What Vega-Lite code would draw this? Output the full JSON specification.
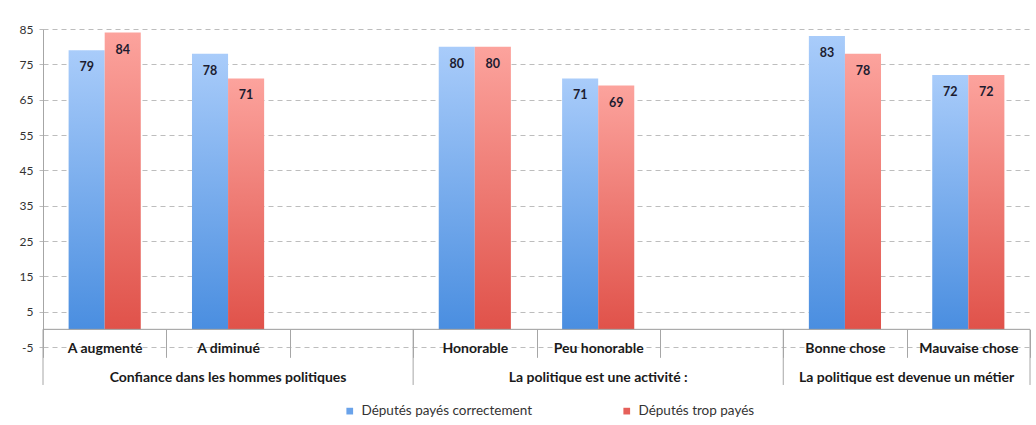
{
  "$schema": "https://vega.github.io/schema/vega-lite/v6.json",
  "width": 987,
  "height": 318,
  "autosize": "none",
  "padding": {"left": 43, "top": 29, "right": 6, "bottom": 78},
  "background": "white",
  "config": {"view": {"stroke": null}, "font": "Lato"},
  "datasets": {
    "bars": [
      {"cat": "A augmenté", "serie": "Députés payés correctement", "value": 79},
      {"cat": "A augmenté", "serie": "Députés trop payés", "value": 84},
      {"cat": "A diminué", "serie": "Députés payés correctement", "value": 78},
      {"cat": "A diminué", "serie": "Députés trop payés", "value": 71},
      {"cat": "Honorable", "serie": "Députés payés correctement", "value": 80},
      {"cat": "Honorable", "serie": "Députés trop payés", "value": 80},
      {"cat": "Peu honorable", "serie": "Députés payés correctement", "value": 71},
      {"cat": "Peu honorable", "serie": "Députés trop payés", "value": 69},
      {"cat": "Bonne chose", "serie": "Députés payés correctement", "value": 83},
      {"cat": "Bonne chose", "serie": "Députés trop payés", "value": 78},
      {"cat": "Mauvaise chose", "serie": "Députés payés correctement", "value": 72},
      {"cat": "Mauvaise chose", "serie": "Députés trop payés", "value": 72}
    ]
  },
  "layer": [
    {
      "data": {"name": "bars"},
      "transform": [{"filter": "datum.serie === 'Députés payés correctement'"}],
      "mark": {
        "type": "bar",
        "color": {
          "gradient": "linear", "x1": 0, "y1": 0, "x2": 0, "y2": 1,
          "stops": [{"offset": 0, "color": "#a9ccfa"}, {"offset": 1, "color": "#4a8ee0"}]
        }
      },
      "encoding": {
        "x": {
          "field": "cat", "type": "nominal", "title": null,
          "scale": {
            "domain": ["A augmenté", "A diminué", "_1", "Honorable", "Peu honorable", "_2", "Bonne chose", "Mauvaise chose"],
            "paddingInner": 0, "paddingOuter": 0
          },
          "axis": {
            "orient": "bottom", "offset": -17.67, "domain": false, "grid": false,
            "ticks": true, "tickBand": "extent", "tickSize": 28, "tickColor": "#a6a6a6", "tickWidth": 1,
            "labelPadding": -9.3, "labelBaseline": "middle", "labelAngle": 0,
            "labelFontSize": 14, "labelFontWeight": "bold", "labelColor": "#1a1a1a", "labelFont": "Lato",
            "labelExpr": "indexof(datum.label, '_') === 0 ? '' : datum.label"
          }
        },
        "xOffset": {
          "field": "serie", "type": "nominal",
          "scale": {"domain": ["Députés payés correctement", "Députés trop payés"], "paddingOuter": 0.71, "paddingInner": 0}
        },
        "y": {
          "field": "value", "type": "quantitative", "title": null,
          "scale": {"domain": [-5, 85], "nice": false, "zero": false},
          "axis": {
            "values": [-5, 5, 15, 25, 35, 45, 55, 65, 75, 85],
            "tickCount": 20,
            "labelOverlap": false,
            "labelExpr": "datum.value < 0 ? '-' + abs(datum.value) : '' + datum.value",
            "domain": true, "domainColor": "#a6a6a6",
            "ticks": true, "tickSize": 4, "tickColor": "#bbbbbb",
            "grid": true, "gridDash": [5, 4], "gridColor": "#bdbdbd", "gridWidth": 1.2,
            "labelFontSize": 12, "labelColor": "#333333", "labelPadding": 6, "labelFont": "Lato"
          }
        },
        "y2": {"datum": 0}
      }
    },
    {
      "data": {"name": "bars"},
      "transform": [{"filter": "datum.serie === 'Députés trop payés'"}],
      "mark": {
        "type": "bar",
        "color": {
          "gradient": "linear", "x1": 0, "y1": 0, "x2": 0, "y2": 1,
          "stops": [{"offset": 0, "color": "#fca39d"}, {"offset": 1, "color": "#e0524a"}]
        }
      },
      "encoding": {
        "x": {"field": "cat", "type": "nominal", "title": null},
        "xOffset": {"field": "serie", "type": "nominal"},
        "y": {"field": "value", "type": "quantitative", "title": null},
        "y2": {"datum": 0}
      }
    },
    {
      "data": {"name": "bars"},
      "mark": {"type": "text", "font": "Lato", "fontWeight": "bold", "fontSize": 12.5, "color": "#1c1c30", "dy": 17, "baseline": "middle"},
      "encoding": {
        "x": {"field": "cat", "type": "nominal", "title": null},
        "xOffset": {"field": "serie", "type": "nominal"},
        "y": {"field": "value", "type": "quantitative", "title": null},
        "text": {"field": "value", "type": "quantitative"}
      }
    },
    {
      "data": {"values": [{}]},
      "mark": {"type": "rule", "color": "#9a9a9a", "strokeWidth": 1},
      "encoding": {"y": {"datum": 0}}
    },
    {
      "data": {"values": [{"cat": "A augmenté"}, {"cat": "Honorable"}, {"cat": "Bonne chose"}]},
      "mark": {"type": "rule", "color": "#a6a6a6", "strokeWidth": 1},
      "encoding": {
        "x": {"field": "cat", "type": "nominal", "bandPosition": 0, "title": null},
        "y": {"datum": 0},
        "y2": {"datum": -15.75}
      }
    },
    {
      "data": {"values": [{"cat": "Mauvaise chose"}]},
      "mark": {"type": "rule", "color": "#a6a6a6", "strokeWidth": 1},
      "encoding": {
        "x": {"field": "cat", "type": "nominal", "bandPosition": 1, "title": null},
        "y": {"datum": 0},
        "y2": {"datum": -15.75}
      }
    },
    {
      "data": {"values": [
        {"cat": "A diminué", "label": "Confiance dans les hommes politiques"},
        {"cat": "Peu honorable", "label": "La politique est une activité :"}
      ]},
      "mark": {"type": "text", "font": "Lato", "fontWeight": "bold", "fontSize": 14, "color": "#1a1a1a", "baseline": "middle"},
      "encoding": {
        "x": {"field": "cat", "type": "nominal", "title": null},
        "y": {"datum": -13.8},
        "text": {"field": "label"}
      }
    },
    {
      "data": {"values": [{"cat": "Mauvaise chose", "label": "La politique est devenue un métier"}]},
      "mark": {"type": "text", "font": "Lato", "fontWeight": "bold", "fontSize": 14, "color": "#1a1a1a", "baseline": "middle"},
      "encoding": {
        "x": {"field": "cat", "type": "nominal", "bandPosition": 0, "title": null},
        "y": {"datum": -13.8},
        "text": {"field": "label"}
      }
    },
    {
      "data": {"name": "bars"},
      "mark": {"type": "square", "opacity": 0},
      "encoding": {
        "x": {"field": "cat", "type": "nominal", "title": null},
        "xOffset": {"field": "serie", "type": "nominal"},
        "y": {"field": "value", "type": "quantitative", "title": null},
        "color": {
          "field": "serie", "type": "nominal",
          "scale": {"domain": ["Députés payés correctement", "Députés trop payés"], "range": ["#6aa3ea", "#e6605a"]},
          "legend": {
            "title": null, "orient": "none", "legendX": 300, "legendY": 375,
            "direction": "horizontal", "symbolType": "square", "symbolSize": 45, "symbolOpacity": 1,
            "symbolStrokeWidth": 0, "labelFont": "Lato", "labelFontSize": 13.5, "labelColor": "#333333",
            "labelOffset": 5, "labelLimit": 400, "columnPadding": 88
          }
        }
      }
    }
  ]
}
